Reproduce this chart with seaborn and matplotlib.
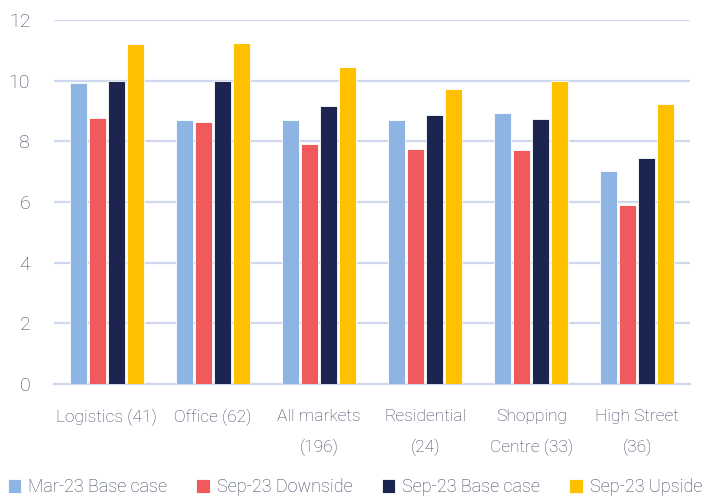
import matplotlib
matplotlib.use("Agg")
import matplotlib.pyplot as plt
import seaborn as sns
import pandas as pd

categories = ["Logistics (41)", "Office (62)", "All markets\n(196)", "Residential\n(24)",
              "Shopping\nCentre (33)", "High Street\n(36)"]
series_names = ["Mar-23 Base case", "Sep-23 Downside", "Sep-23 Base case", "Sep-23 Upside"]
mar23_base = [9.92, 8.71, 8.69, 8.70, 8.93, 7.01]
sep23_down = [8.78, 8.64, 7.90, 7.75, 7.70, 5.91]
sep23_base = [10.0, 9.98, 9.15, 8.86, 8.74, 7.44]
sep23_up = [11.21, 11.24, 10.46, 9.72, 9.99, 9.23]
colors = ["#8DB4E2", "#F05A5C", "#1B2550", "#FFC000"]

rows = []
for name, vals in zip(series_names, [mar23_base, sep23_down, sep23_base, sep23_up]):
    for cat, v in zip(categories, vals):
        rows.append({"category": cat, "series": name, "value": v})
df = pd.DataFrame(rows)

sns.set_style("white")
plt.rcParams['font.family'] = ['Roboto', 'DejaVu Sans']
plt.rcParams['font.weight'] = 'light'
text_color = "#3B4560"
grid_color = "#D0D8EE"

fig = plt.figure(figsize=(7.08, 4.97), dpi=100)
ax = fig.add_axes([0.076, 0.227, 0.899, 0.733])

sns.barplot(data=df, x="category", y="value", hue="series", palette=colors, saturation=1,
            width=0.72, gap=0.12, edgecolor="white", linewidth=0.6, ax=ax, zorder=3)

ax.set_ylim(0, 12)
ax.set_yticks(range(0, 13, 2))
ax.yaxis.grid(True, color=grid_color, linewidth=1.6, zorder=0)
ax.set_axisbelow(True)
for s in ["left", "right", "top"]:
    ax.spines[s].set_visible(False)
ax.spines["bottom"].set_color(grid_color)
ax.spines["bottom"].set_linewidth(1.6)
ax.set_xlabel("")
ax.set_ylabel("")
ax.tick_params(axis="x", length=0, labelsize=12.5, labelcolor=text_color, pad=18)
ax.tick_params(axis="y", length=0, labelsize=14, labelcolor=text_color, pad=17)
for lab in ax.get_xticklabels():
    lab.set_linespacing(2.1)

leg = ax.legend(loc="center", bbox_to_anchor=(0.473, -0.283), ncol=4, frameon=False,
                fontsize=13, handlelength=0.75, handleheight=0.75, handletextpad=0.4,
                columnspacing=1.6, labelcolor=text_color)

fig.savefig("out.png", dpi=100)
